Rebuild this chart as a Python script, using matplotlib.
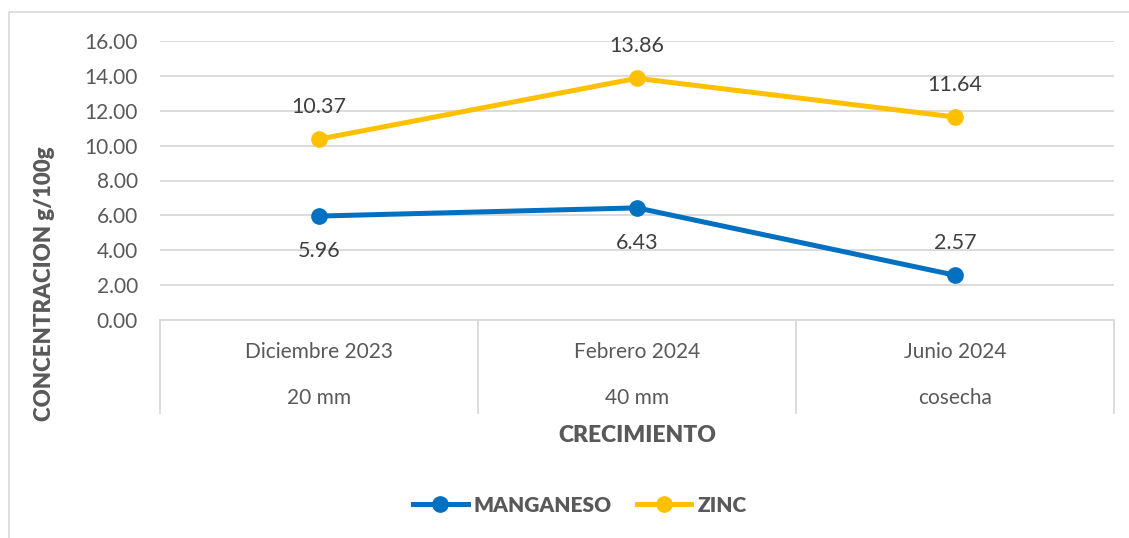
import matplotlib
matplotlib.use("Agg")
import matplotlib.pyplot as plt
from matplotlib.lines import Line2D
from matplotlib.patches import Rectangle

# data
periodos = ["Diciembre 2023", "Febrero 2024", "Junio 2024"]
etapas = ["20 mm", "40 mm", "cosecha"]
manganeso = [5.96, 6.43, 2.57]
zinc = [10.37, 13.86, 11.64]
y_ticks = [0, 2, 4, 6, 8, 10, 12, 14, 16]

AZUL = "#0070C0"
AMARILLO = "#FFC000"
GRIS_TXT = "#595959"
GRIS_LBL = "#404040"
GRIS_LINEA = "#D9D9D9"

plt.rcParams["font.family"] = ["Lato", "DejaVu Sans"]

W, H = 1129, 538
fig = plt.figure(figsize=(W / 100, H / 100), dpi=100)

# borde del area del grafico (se sale por la derecha y abajo)
fig.patches.append(Rectangle((9 / W, -0.2), 1.2, (538 - 12) / H + 0.2,
                             transform=fig.transFigure, fill=False,
                             edgecolor=GRIS_LINEA, linewidth=1.2))

x0, x1 = 160, 1114
ytop, ybot = 41, 320
ax = fig.add_axes([x0 / W, 1 - ybot / H, (x1 - x0) / W, (ybot - ytop) / H])

xs = list(range(len(periodos)))
ax.plot(xs, manganeso, color=AZUL, lw=3.6, marker="o", ms=11,
        solid_capstyle="round", zorder=3)
ax.plot(xs, zinc, color=AMARILLO, lw=3.6, marker="o", ms=11,
        solid_capstyle="round", zorder=3)

ax.set_xlim(-0.5, 2.5)
ax.set_ylim(0, 16)
ax.set_yticks(y_ticks)
ax.set_yticklabels([f"{v:.2f}" for v in y_ticks])
ax.tick_params(axis="y", length=0, pad=16, labelsize=15, labelcolor=GRIS_TXT)
ax.set_xticks([])
ax.grid(axis="y", color=GRIS_LINEA, lw=1.3)
ax.set_axisbelow(True)
for s in ["top", "right", "left"]:
    ax.spines[s].set_visible(False)
ax.spines["bottom"].set_color(GRIS_LINEA)
ax.spines["bottom"].set_linewidth(1.3)

# etiquetas de datos
for x, v in zip(xs, zinc):
    ax.annotate(f"{v:.2f}", (x, v), xytext=(0, 23), textcoords="offset points",
                ha="center", va="center", fontsize=15.5, color=GRIS_LBL)
for x, v in zip(xs, manganeso):
    dy = -25 if x < 2 else 23
    ax.annotate(f"{v:.2f}", (x, v), xytext=(0, dy), textcoords="offset points",
                ha="center", va="center", fontsize=15.5, color=GRIS_LBL)

# eje de categorias de dos niveles
tr = ax.get_xaxis_transform()
px = 1.0 / (ybot - ytop)
for b in [-0.5, 0.5, 1.5, 2.5]:
    ax.plot([b, b], [0, -(413 - ybot) * px], transform=tr, color=GRIS_LINEA,
            lw=1.3, clip_on=False)
for x, p, e in zip(xs, periodos, etapas):
    ax.text(x, -(352 - ybot) * px, p, transform=tr, ha="center", va="center",
            fontsize=15, color=GRIS_TXT)
    ax.text(x, -(398 - ybot) * px, e, transform=tr, ha="center", va="center",
            fontsize=15, color=GRIS_TXT)

fig.text(637 / W, 1 - 436 / H, "CRECIMIENTO", ha="center", va="center",
         fontsize=16.5, fontweight="heavy", color=GRIS_TXT)
fig.text(45 / W, 1 - 284 / H, "CONCENTRACION g/100g", ha="center", va="center",
         rotation=90, fontsize=16, fontweight="heavy", color=GRIS_TXT)

handles = [Line2D([], [], color=AZUL, lw=3.6, marker="o", ms=11),
           Line2D([], [], color=AMARILLO, lw=3.6, marker="o", ms=11)]
leg = fig.legend(handles, ["MANGANESO", "ZINC"], loc="center",
                 bbox_to_anchor=(580 / W, 1 - 505 / H), ncol=2, frameon=False,
                 handlelength=2.6, handletextpad=0.3, columnspacing=1.2,
                 prop={"size": 15, "weight": "heavy"})
for t in leg.get_texts():
    t.set_color(GRIS_TXT)

fig.savefig("out.png", dpi=100)
